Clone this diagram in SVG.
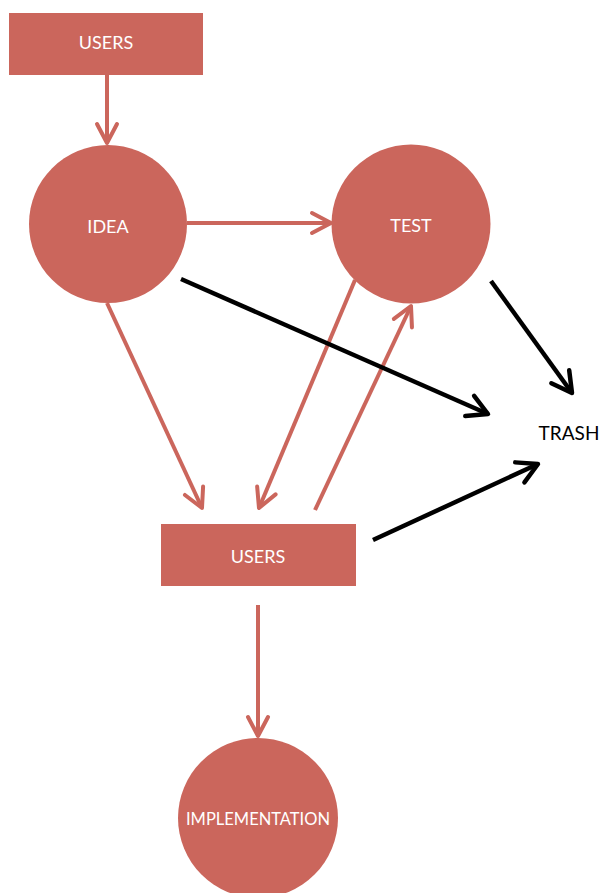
<svg xmlns="http://www.w3.org/2000/svg" width="600" height="893" viewBox="0 0 600 893">
  <style>
    .shape { fill: #CB665C; }
    .label { font-family: Lato, "Open Sans", "Liberation Sans", sans-serif; fill: #FFFFFF; text-anchor: middle; dominant-baseline: central; font-size: 18px; }
    .dark { fill: #000000; font-size: 19px; }
    .red { stroke: #CB665C; stroke-width: 4; fill: none; }
    .black { stroke: #000000; stroke-width: 4.5; fill: none; }
  </style>
  <defs>
    <marker id="head-red" markerUnits="userSpaceOnUse" markerWidth="30" markerHeight="30" viewBox="-24 -15 30 30" refX="0" refY="0" orient="auto" overflow="visible">
      <path d="M-19,-10 L0,0 L-19,10" fill="none" stroke="#CB665C" stroke-width="4" stroke-linecap="round" stroke-linejoin="round"/>
    </marker>
    <marker id="head-black" markerUnits="userSpaceOnUse" markerWidth="30" markerHeight="30" viewBox="-24 -15 30 30" refX="0" refY="0" orient="auto" overflow="visible">
      <path d="M-20,-11 L0,0 L-20,11" fill="none" stroke="#000000" stroke-width="4.5" stroke-linecap="round" stroke-linejoin="round"/>
    </marker>
  </defs>

  <rect width="600" height="893" fill="#FFFFFF"/>

  <g id="connectors">
    <line class="red" x1="107" y1="75" x2="107" y2="143" marker-end="url(#head-red)"/>
    <line class="red" x1="187" y1="223" x2="331" y2="223" marker-end="url(#head-red)"/>
    <line class="red" x1="107" y1="303" x2="202" y2="508" marker-end="url(#head-red)"/>
    <line class="red" x1="355" y1="280" x2="259" y2="508" marker-end="url(#head-red)"/>
    <line class="red" x1="315" y1="510" x2="411" y2="306" marker-end="url(#head-red)"/>
    <line class="red" x1="258" y1="605" x2="258" y2="736" marker-end="url(#head-red)"/>
    <line class="black" x1="181" y1="279" x2="488" y2="414" marker-end="url(#head-black)"/>
    <line class="black" x1="491" y1="281" x2="572" y2="393" marker-end="url(#head-black)"/>
    <line class="black" x1="373" y1="540" x2="538" y2="464" marker-end="url(#head-black)"/>
  </g>

  <g id="users-top">
    <rect class="shape" x="9" y="13" width="194" height="62"/>
    <text class="label" x="106" y="42">USERS</text>
  </g>

  <g id="idea">
    <circle class="shape" cx="108" cy="224" r="79"/>
    <text class="label" x="108" y="226">IDEA</text>
  </g>

  <g id="test">
    <circle class="shape" cx="411" cy="224" r="79.5"/>
    <text class="label" x="411" y="225">TEST</text>
  </g>

  <g id="trash">
    <text class="label dark" x="569" y="432">TRASH</text>
  </g>

  <g id="users-bottom">
    <rect class="shape" x="161" y="524" width="195" height="62"/>
    <text class="label" x="258" y="556">USERS</text>
  </g>

  <g id="implementation">
    <circle class="shape" cx="258" cy="818" r="80"/>
    <text class="label" x="258" y="818" font-size="16" textLength="144" lengthAdjust="spacingAndGlyphs">IMPLEMENTATION</text>
  </g>
</svg>
